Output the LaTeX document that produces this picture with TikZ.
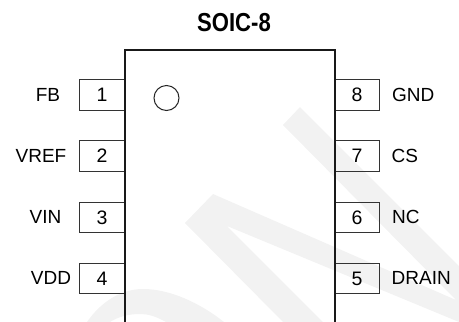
\documentclass[tikz,border=0pt]{standalone}
\usepackage{fontspec}
\setmainfont{Liberation Sans}
\tikzset{
  wmark/.style={fill=black!5,draw=none},
  pinbox/.style={draw=black!80,line width=1.1pt,minimum width=45pt,minimum height=30.5pt,inner sep=0pt,font=\fontsize{19.5}{19.5}\selectfont,text=black},
  pinlabel/.style={anchor=base,inner sep=0pt,font=\fontsize{19}{19}\selectfont,text=black},
  pinlabelr/.style={anchor=base west,inner sep=0pt,font=\fontsize{19}{19}\selectfont,text=black},
  bodyline/.style={draw=black!90,line width=2pt,line join=miter},
  titlelabel/.style={inner sep=0pt,font=\bfseries\fontsize{26}{26}\selectfont,xscale=.85,transform shape,anchor=base,text=black}
}
\begin{document}
\begin{tikzpicture}[x=1pt,y=-1pt]
\useasboundingbox (0,0) rectangle (459,322);
% watermark
\fill[wmark] (300,107) -- (459,266) -- (459,322) -- (227,226) -- (323,322) -- (283,322) -- (185,223) -- (213,194) -- (456,300) -- (283,125) -- cycle;
\fill[wmark] (87,322) .. controls (100,303) and (120,289) .. (143,289) .. controls (170,289) and (200,303) .. (224,322) -- (166,322) .. controls (155,316) and (148,314) .. (140,314) .. controls (128,314) and (118,317) .. (110,322) -- cycle;
% body
\coordinate (bl) at (124.5,322);
\coordinate (tl) at (124.5,49.5);
\coordinate (tr) at (334.5,49.5);
\coordinate (br) at (334.5,322);
% pins
\node[pinbox] (p1) at (102,95) {1};
\node[pinbox] (p2) at (102,156) {2};
\node[pinbox] (p3) at (102,217.3) {3};
\node[pinbox] (p4) at (102,278.5) {4};
\node[pinbox] (p8) at (357,95) {8};
\node[pinbox] (p7) at (357,156) {7};
\node[pinbox] (p6) at (357,217.3) {6};
\node[pinbox] (p5) at (357,278.5) {5};
\draw[bodyline] (bl) -- (tl) -- (tr) -- (br);
\node[draw=black!85,line width=1pt,circle,minimum size=25pt,inner sep=0pt] (dot) at (166.5,98) {};
% labels
\node[pinlabel] (l1) at (48,101) {FB};
\node[pinlabel] (l2) at (41,162) {VREF};
\node[pinlabel] (l3) at (45.5,223) {VIN};
\node[pinlabel] (l4) at (51,284) {VDD};
\node[pinlabelr] (l8) at (392,101) {GND};
\node[pinlabelr] (l7) at (391.5,162) {CS};
\node[pinlabelr] (l6) at (392,223) {NC};
\node[pinlabelr] (l5) at (391.5,284) {DRAIN};
\node[titlelabel] (title) at (234,31) {SOIC-8};
\end{tikzpicture}
\end{document}
